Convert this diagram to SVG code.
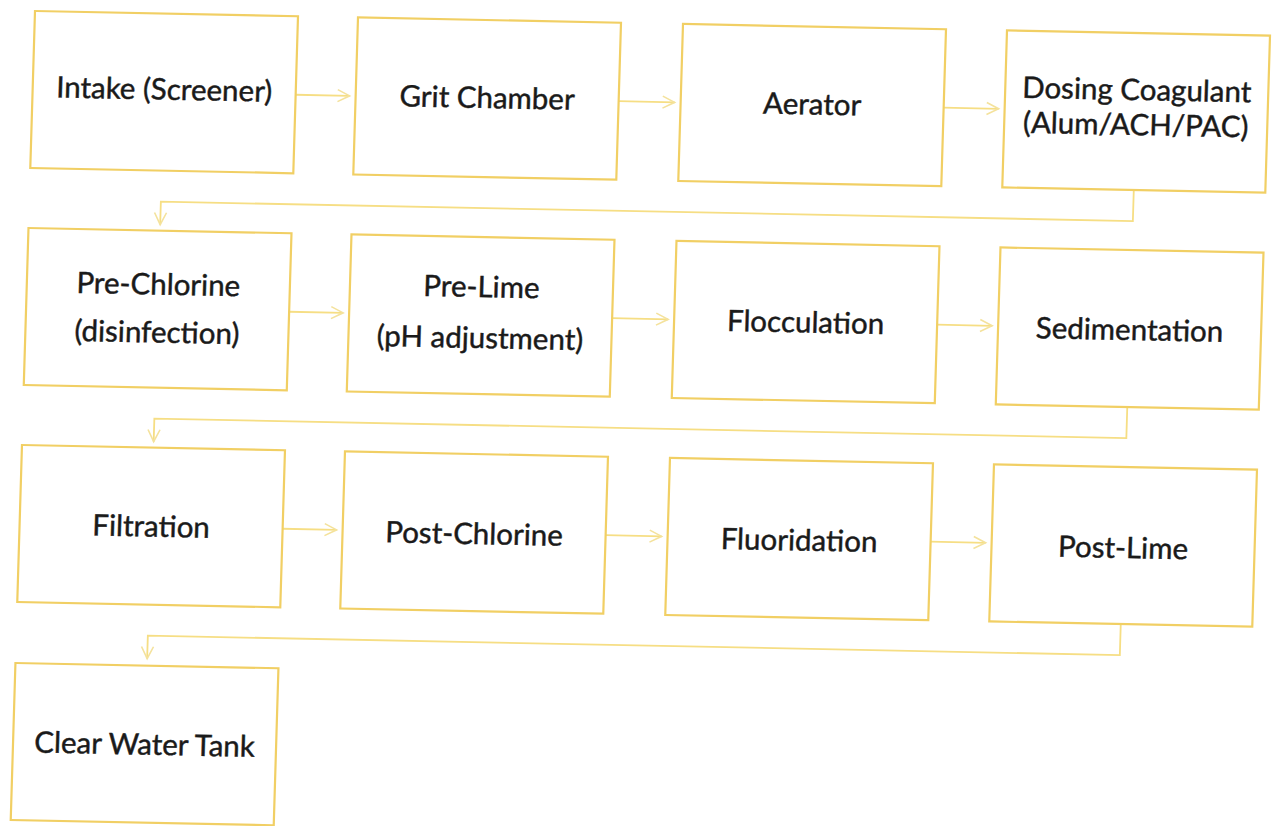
<svg xmlns="http://www.w3.org/2000/svg" width="1274" height="826" viewBox="0 0 1274 826">
<style>
.box{fill:#ffffff;stroke:#F1CF64;stroke-width:2.2}
.lbl{font-family:Lato,"Open Sans","DejaVu Sans",sans-serif;font-size:29.5px;fill:#1a1a1a;stroke:#1a1a1a;stroke-width:0.45;text-anchor:middle}
.con{fill:none;stroke:#F6DE84;stroke-width:1.8}
</style>
<defs>
<marker id="ah" viewBox="-14 -8 16 16" markerWidth="16" markerHeight="16" refX="0" refY="0" orient="auto" markerUnits="userSpaceOnUse">
<path d="M-12,-6 L0,0 L-12,6" fill="none" stroke="#F4E29C" stroke-width="1.6"/>
</marker>
</defs>
<rect width="1274" height="826" fill="#ffffff"/>
<g transform="matrix(1,0.02,-0.03,1,35,11)">
<g id="connectors">
<path class="con" d="M263,78.5 H317" marker-end="url(#ah)"/>
<path class="con" d="M586,78.5 H642" marker-end="url(#ah)"/>
<path class="con" d="M911,78.5 H966" marker-end="url(#ah)"/>
<path class="con" d="M1103.5,157 V188 H131.5 V211" marker-end="url(#ah)"/>
<path class="con" d="M263,295.5 H317" marker-end="url(#ah)"/>
<path class="con" d="M586,295.5 H642" marker-end="url(#ah)"/>
<path class="con" d="M911,295.5 H966" marker-end="url(#ah)"/>
<path class="con" d="M1103.5,374 V405 H131.5 V428" marker-end="url(#ah)"/>
<path class="con" d="M263,512.5 H317" marker-end="url(#ah)"/>
<path class="con" d="M586,512.5 H642" marker-end="url(#ah)"/>
<path class="con" d="M911,512.5 H966" marker-end="url(#ah)"/>
<path class="con" d="M1103.5,591 V622 H131.5 V645" marker-end="url(#ah)"/>
</g>
<g id="intake"><rect class="box" x="0" y="0" width="263" height="157"/><text class="lbl" x="131.5" y="86">Intake (Screener)</text></g>
<g id="grit"><rect class="box" x="323" y="0" width="263" height="157"/><text class="lbl" x="454.5" y="88">Grit Chamber</text></g>
<g id="aerator"><rect class="box" x="648" y="0" width="263" height="157"/><text class="lbl" x="779.5" y="88">Aerator</text></g>
<g id="dosing"><rect class="box" x="972" y="0" width="263" height="157"/><text class="lbl" x="1103.5" y="67">Dosing Coagulant</text><text class="lbl" x="1103.5" y="102">(Alum/ACH/PAC)</text></g>
<g id="prechlorine"><rect class="box" x="0" y="217" width="263" height="157"/><text class="lbl" x="131.5" y="281">Pre-Chlorine</text><text class="lbl" x="131.5" y="329">(disinfection)</text></g>
<g id="prelime"><rect class="box" x="323" y="217" width="263" height="157"/><text class="lbl" x="454.5" y="277">Pre-Lime</text><text class="lbl" x="454.5" y="328">(pH adjustment)</text></g>
<g id="flocculation"><rect class="box" x="648" y="217" width="263" height="157"/><text class="lbl" x="779.5" y="306">Flocculation</text></g>
<g id="sedimentation"><rect class="box" x="972" y="217" width="263" height="157"/><text class="lbl" x="1103.5" y="307">Sedimentation</text></g>
<g id="filtration"><rect class="box" x="0" y="434" width="263" height="157"/><text class="lbl" x="131.5" y="523">Filtration</text></g>
<g id="postchlorine"><rect class="box" x="323" y="434" width="263" height="157"/><text class="lbl" x="454.5" y="524">Post-Chlorine</text></g>
<g id="fluoridation"><rect class="box" x="648" y="434" width="263" height="157"/><text class="lbl" x="779.5" y="524">Fluoridation</text></g>
<g id="postlime"><rect class="box" x="972" y="434" width="263" height="157"/><text class="lbl" x="1103.5" y="525">Post-Lime</text></g>
<g id="clearwater"><rect class="box" x="0" y="652" width="263" height="157"/><text class="lbl" x="131.5" y="741">Clear Water Tank</text></g>
</g>
</svg>
